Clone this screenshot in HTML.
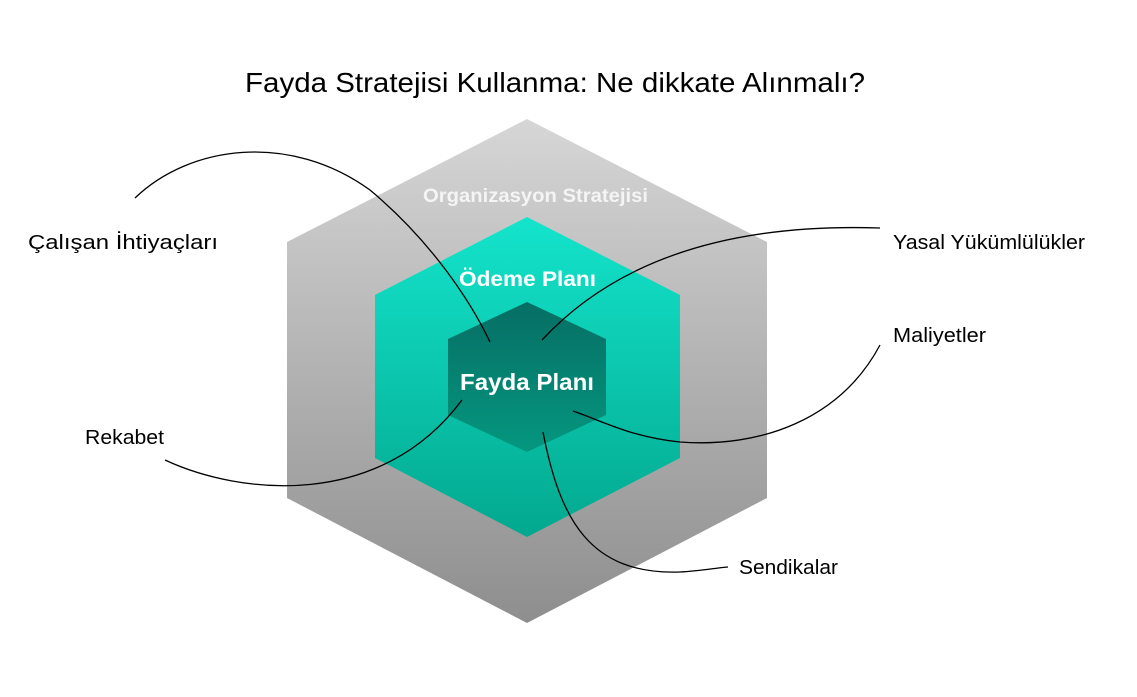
<!DOCTYPE html>
<html><head><meta charset="utf-8"><style>
body{margin:0;background:#fff;width:1137px;height:692px;overflow:hidden;font-family:"Liberation Sans",sans-serif}
</style></head><body>
<svg width="1137" height="692" viewBox="0 0 1137 692" xmlns="http://www.w3.org/2000/svg">
<defs>
<linearGradient id="g1" x1="0" y1="0" x2="0" y2="1"><stop offset="0" stop-color="#d6d6d6"/><stop offset="1" stop-color="#8e8e8e"/></linearGradient>
<linearGradient id="g2" x1="0" y1="0" x2="0" y2="1"><stop offset="0" stop-color="#14e4cc"/><stop offset="1" stop-color="#02a88e"/></linearGradient>
<linearGradient id="g3" x1="0" y1="0" x2="0" y2="1"><stop offset="0" stop-color="#066e64"/><stop offset="1" stop-color="#05977f"/></linearGradient>
</defs>
<text x="245" y="92" font-size="28" fill="#000" textLength="620" lengthAdjust="spacingAndGlyphs">Fayda Stratejisi Kullanma: Ne dikkate Alınmalı?</text>
<polygon points="527,119 767,242 767,498 527,623 287,498 287,242" fill="url(#g1)"/>
<polygon points="527,217 680,295 680,458 527,537 375,458 375,295" fill="url(#g2)"/>
<polygon points="527,302 606,339 606,415 527,452 448,415 448,339" fill="url(#g3)"/>
<g font-weight="bold" fill="#fff">
<text x="423" y="202" font-size="19" fill="#f4f4f4" textLength="225" lengthAdjust="spacingAndGlyphs">Organizasyon Stratejisi</text>
<text x="459" y="286" font-size="21" textLength="137" lengthAdjust="spacingAndGlyphs">Ödeme Planı</text>
<text x="460" y="390" font-size="23" textLength="134" lengthAdjust="spacingAndGlyphs">Fayda Planı</text>
</g>
<g fill="none" stroke="#000" stroke-width="1.3">
<path d="M135,198 C190,145 290,132 370,190 C430,240 470,300 490,342"/>
<path d="M880,228 C760,224 630,245 542,340"/>
<path d="M880,345 C840,420 760,448 680,442 C630,437 600,420 573,411"/>
<path d="M165,460 C240,495 380,510 462,400"/>
<path d="M543,432 C560,520 590,575 680,572 C700,571 715,568 728,567"/>
</g>
<g font-size="20" fill="#000">
<text x="28" y="249" textLength="190" lengthAdjust="spacingAndGlyphs">Çalışan İhtiyaçları</text>
<text x="893" y="249" textLength="192" lengthAdjust="spacingAndGlyphs">Yasal Yükümlülükler</text>
<text x="893" y="342" textLength="93" lengthAdjust="spacingAndGlyphs">Maliyetler</text>
<text x="85" y="444" textLength="79" lengthAdjust="spacingAndGlyphs">Rekabet</text>
<text x="739" y="574" textLength="99" lengthAdjust="spacingAndGlyphs">Sendikalar</text>
</g>
</svg>
</body></html>
